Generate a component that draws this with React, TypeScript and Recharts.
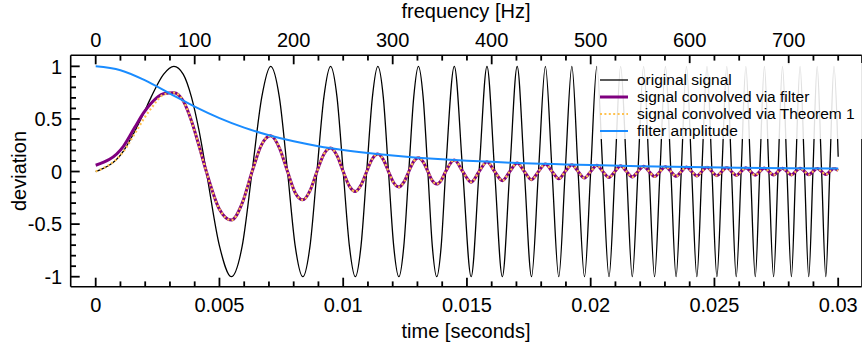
import React from 'react';
import { LineChart, Line, XAxis, YAxis, Legend, ReferenceLine } from 'recharts';

// chirp samples (time in seconds)
const TIME = [
  0, 0.00112, 0.00158, 0.00194, 0.00224, 0.00274, 0.00316, 0.00354, 0.00387, 0.00418, 0.00447,
  0.005, 0.00548, 0.00592, 0.00632, 0.00671, 0.00707, 0.00742, 0.00775,
  0.00806, 0.00837, 0.00866, 0.00894, 0.00922, 0.00949, 0.00975, 0.01,
  0.01025, 0.01049, 0.01072, 0.01095, 0.01118, 0.0114, 0.01162, 0.01183,
  0.01204, 0.01225, 0.01245, 0.01265, 0.01285, 0.01304, 0.01323, 0.01342,
  0.0136, 0.01378, 0.01396, 0.01414,
  0.01449, 0.01483, 0.01517, 0.01549, 0.01581, 0.01612, 0.01643, 0.01673,
  0.01703, 0.01732, 0.01761, 0.01789, 0.01817, 0.01844, 0.01871, 0.01897,
  0.01924, 0.01949, 0.01975, 0.02, 0.02025, 0.02049, 0.02074, 0.02098,
  0.02121, 0.02145, 0.02168, 0.02191, 0.02214, 0.02236, 0.02258, 0.0228,
  0.02302, 0.02324, 0.02345, 0.02366, 0.02387, 0.02408, 0.02429, 0.02449,
  0.0247, 0.0249, 0.0251, 0.0253, 0.0255, 0.02569, 0.02588, 0.02608,
  0.02627, 0.02646, 0.02665, 0.02683, 0.02702, 0.0272, 0.02739, 0.02757,
  0.02775, 0.02793, 0.02811, 0.02828, 0.02846, 0.02864, 0.02881, 0.02898,
  0.02915, 0.02933, 0.0295, 0.02966, 0.02983, 0.03,
];

const ORIGINAL = [
  0, 0.195, 0.383, 0.556, 0.707, 0.924, 1, 0.924, 0.707, 0.383, 0,
  -0.707, -1, -0.707, 0, 0.707, 1, 0.707, 0,
  -0.707, -1, -0.707, 0, 0.707, 1, 0.707, 0,
  -0.707, -1, -0.707, 0, 0.707, 1, 0.707, 0,
  -0.707, -1, -0.707, 0, 0.707, 1, 0.707, 0,
  -0.707, -1, -0.707, 0,
  1, 0, -1, 0, 1, 0, -1, 0,
  1, 0, -1, 0, 1, 0, -1, 0,
  1, 0, -1, 0, 1, 0, -1, 0,
  1, 0, -1, 0, 1, 0, -1, 0,
  1, 0, -1, 0, 1, 0, -1, 0,
  1, 0, -1, 0, 1, 0, -1, 0,
  1, 0, -1, 0, 1, 0, -1, 0,
  1, 0, -1, 0, 1, 0, -1, 0,
  1, 0, -1, 0, 1, 0.14,
];

const FILTERED = [
  0.06, 0.24, 0.42, 0.56, 0.65, 0.74, 0.75, 0.67, 0.48, 0.24, 0,
  -0.359, -0.462, -0.3, 0, 0.258, 0.34, 0.226, 0,
  -0.201, -0.269, -0.181, 0, 0.165, 0.223, 0.151, 0,
  -0.139, -0.19, -0.129, 0, 0.121, 0.166, 0.113, 0,
  -0.107, -0.147, -0.101, 0, 0.096, 0.132, 0.091, 0,
  -0.087, -0.119, -0.083, 0,
  0.109, 0, -0.101, 0, 0.093, 0, -0.087, 0,
  0.082, 0, -0.077, 0, 0.072, 0, -0.069, 0,
  0.065, 0, -0.062, 0, 0.059, 0, -0.057, 0,
  0.054, 0, -0.052, 0, 0.05, 0, -0.048, 0,
  0.046, 0, -0.045, 0, 0.043, 0, -0.042, 0,
  0.041, 0, -0.039, 0, 0.038, 0, -0.037, 0,
  0.036, 0, -0.035, 0, 0.034, 0, -0.033, 0,
  0.032, 0, -0.032, 0, 0.031, 0, -0.03, 0,
  0.029, 0, -0.029, 0, 0.028, 0.01,
];

// Theorem 1 curve only differs from the filtered one at the very start
const THEOREM_START = [0, 0.19, 0.36, 0.5, 0.6, 0.73, 0.75, 0.67, 0.48, 0.24, 0];
const THEOREM = [...THEOREM_START, ...FILTERED.slice(THEOREM_START.length)];

const FILTER_T = [
  0, 0.001, 0.002, 0.003, 0.004, 0.005, 0.006, 0.007, 0.008, 0.009, 0.01,
  0.011, 0.012, 0.013, 0.014, 0.015, 0.016, 0.017, 0.018, 0.019, 0.02,
  0.022, 0.024, 0.026, 0.028, 0.03,
];
const FILTER_AMP = [
  1, 0.963, 0.866, 0.741, 0.617, 0.508, 0.417, 0.345, 0.287, 0.241, 0.205,
  0.176, 0.152, 0.132, 0.116, 0.103, 0.092, 0.082, 0.074, 0.067, 0.061,
  0.051, 0.043, 0.037, 0.032, 0.028,
];

const TIME_MAJOR = [0, 0.005, 0.01, 0.015, 0.02, 0.025, 0.03];
const TIME_LABELS = ['0', '0.005', '0.01', '0.015', '0.02', '0.025', '0.03'];
const TIME_MINOR = [
  0.001, 0.002, 0.003, 0.004, 0.006, 0.007, 0.008, 0.009, 0.011, 0.012, 0.013, 0.014,
  0.016, 0.017, 0.018, 0.019, 0.021, 0.022, 0.023, 0.024, 0.026, 0.027, 0.028, 0.029,
];
const FREQ_MAJOR = [0, 100, 200, 300, 400, 500, 600, 700];
const FREQ_MINOR = [
  25, 50, 75, 125, 150, 175, 225, 250, 275, 325, 350, 375, 425, 450, 475,
  525, 550, 575, 625, 650, 675, 725, 750,
];
const DEV_MAJOR = [-1, -0.5, 0, 0.5, 1];
const DEV_LABELS = ['-1', '-0.5', '0', '0.5', '1'];
const DEV_MINOR = [-0.9, -0.8, -0.7, -0.6, -0.4, -0.3, -0.2, -0.1, 0.1, 0.2, 0.3, 0.4, 0.6, 0.7, 0.8, 0.9];

const HZ_PER_SECOND = 25000; // top axis: frequency = 25000 * time

const FONT = '"Liberation Sans", Arial, Helvetica, sans-serif';
const W = 862;
const H = 346;
const X_DOMAIN = [-0.00101, 0.03095];
const F_DOMAIN = [X_DOMAIN[0] * HZ_PER_SECOND, X_DOMAIN[1] * HZ_PER_SECOND];
const Y_DOMAIN = [-1.095, 1.105];
const MAJOR_LEN = 9;
const MINOR_LEN = 5.3;
const TICK_W = 1.8;

const SERIES = [
  { name: 'original signal', color: '#000000', width: 1.3, dash: undefined as string | undefined },
  { name: 'signal convolved via filter', color: '#7f007f', width: 3, dash: undefined },
  { name: 'signal convolved via Theorem 1', color: '#ffc24f', width: 2.2, dash: '2 2.4' },
  { name: 'filter amplitude', color: '#1a8cff', width: 2, dash: undefined },
];

const toPoints = (xs: number[], ys: number[]) => xs.map((t, i) => ({ t, v: ys[i] }));

const originalData = toPoints(TIME, ORIGINAL);
const filteredData = toPoints(TIME, FILTERED);
const theoremData = toPoints(TIME, THEOREM);
const ampData = toPoints(FILTER_T, FILTER_AMP);
const freqRange = F_DOMAIN.map((f) => ({ f, v: 0 }));

const textStyle = { fontFamily: FONT, fontSize: 20, fill: '#000' };

// ticks point inward; only the major ones carry a label
const BottomTick = (props: any) => {
  const { x, y, payload } = props;
  const idx = TIME_MAJOR.indexOf(payload.value);
  const len = idx >= 0 ? MAJOR_LEN : MINOR_LEN;
  return (
    <g>
      <path d={`M${x},${y}L${x},${y - len}`} stroke="#000" strokeWidth={TICK_W} fill="none" />
      {idx >= 0 && (
        <text x={x} y={y + 25} textAnchor="middle" style={textStyle}>
          {TIME_LABELS[idx]}
        </text>
      )}
    </g>
  );
};

const TopTick = (props: any) => {
  const { x, y, payload } = props;
  const major = FREQ_MAJOR.includes(payload.value);
  const len = major ? MAJOR_LEN : MINOR_LEN;
  return (
    <g>
      <path d={`M${x},${y}L${x},${y + len}`} stroke="#000" strokeWidth={TICK_W} fill="none" />
      {major && (
        <text x={x} y={y - 8.6} textAnchor="middle" style={textStyle}>
          {String(payload.value)}
        </text>
      )}
    </g>
  );
};

const LeftTick = (props: any) => {
  const { x, y, payload } = props;
  const idx = DEV_MAJOR.indexOf(payload.value);
  const len = idx >= 0 ? MAJOR_LEN : MINOR_LEN;
  return (
    <g>
      <path d={`M${x},${y}L${x + len},${y}`} stroke="#000" strokeWidth={TICK_W} fill="none" />
      {idx >= 0 && (
        <text x={x - 8.5} y={y} dy="0.36em" textAnchor="end" style={textStyle}>
          {DEV_LABELS[idx]}
        </text>
      )}
    </g>
  );
};

const LegendBox = () => (
  <div style={{ fontFamily: FONT, fontSize: 15.5, color: '#000', padding: '8.5px 0 0 3px' }}>
    {SERIES.map((s) => (
      <div key={s.name} style={{ display: 'flex', alignItems: 'center', height: 17, whiteSpace: 'nowrap' }}>
        <svg width={28} height={6} style={{ marginRight: 9, flex: 'none' }}>
          <line x1={0} x2={28} y1={3} y2={3} stroke={s.color} strokeWidth={s.width} strokeDasharray={s.dash} />
        </svg>
        <span>{s.name}</span>
      </div>
    ))}
  </div>
);

export default function App() {
  return (
    <div style={{ position: 'absolute', left: 0, top: 0 }}>
      <LineChart width={W} height={H} margin={{ top: 54.3, right: 0.3, bottom: 58.3, left: 69.7 }}>
        <XAxis
          dataKey="t"
          type="number"
          domain={X_DOMAIN}
          allowDataOverflow
          ticks={[...TIME_MAJOR, ...TIME_MINOR]}
          interval={0}
          height={1}
          tickSize={0}
          tickMargin={0}
          tickLine={false}
          tick={BottomTick}
          axisLine={{ stroke: '#000', strokeWidth: 1.6 }}
          label={{
            content: () => (
              <text x={466} y={338} textAnchor="middle" style={textStyle}>
                time [seconds]
              </text>
            ),
          }}
        />
        <XAxis
          xAxisId="freq"
          dataKey="f"
          orientation="top"
          type="number"
          domain={F_DOMAIN}
          allowDataOverflow
          ticks={[...FREQ_MAJOR, ...FREQ_MINOR]}
          interval={0}
          height={1}
          tickSize={0}
          tickMargin={0}
          tickLine={false}
          tick={TopTick}
          axisLine={{ stroke: '#000', strokeWidth: 1.6 }}
          label={{
            content: () => (
              <text x={466} y={18} textAnchor="middle" style={textStyle}>
                frequency [Hz]
              </text>
            ),
          }}
        />
        <YAxis
          type="number"
          domain={Y_DOMAIN}
          allowDataOverflow
          ticks={[...DEV_MAJOR, ...DEV_MINOR]}
          interval={0}
          width={1}
          tickSize={0}
          tickMargin={0}
          tickLine={false}
          tick={LeftTick}
          axisLine={{ stroke: '#000', strokeWidth: 1.6 }}
          label={{
            content: () => (
              <text
                x={19}
                y={171}
                dy="0.36em"
                textAnchor="middle"
                transform="rotate(-90 19 171)"
                style={textStyle}
              >
                deviation
              </text>
            ),
          }}
        />
        <ReferenceLine x={X_DOMAIN[1]} stroke="#000" strokeWidth={1} />
        {/* carries the frequency axis, draws nothing */}
        <Line
          xAxisId="freq"
          data={freqRange}
          dataKey="v"
          stroke="none"
          dot={false}
          activeDot={false}
          legendType="none"
          isAnimationActive={false}
        />
        <Line
          data={originalData}
          dataKey="v"
          name={SERIES[0].name}
          type="monotone"
          stroke={SERIES[0].color}
          strokeWidth={SERIES[0].width}
          dot={false}
          isAnimationActive={false}
        />
        <Line
          data={filteredData}
          dataKey="v"
          name={SERIES[1].name}
          type="monotone"
          stroke={SERIES[1].color}
          strokeWidth={SERIES[1].width}
          dot={false}
          isAnimationActive={false}
        />
        <Line
          data={theoremData}
          dataKey="v"
          name={SERIES[2].name}
          type="monotone"
          stroke={SERIES[2].color}
          strokeWidth={SERIES[2].width}
          strokeDasharray={SERIES[2].dash}
          dot={false}
          isAnimationActive={false}
        />
        <Line
          data={ampData}
          dataKey="v"
          name={SERIES[3].name}
          type="monotone"
          stroke={SERIES[3].color}
          strokeWidth={SERIES[3].width}
          dot={false}
          isAnimationActive={false}
        />
        <Legend
          layout="vertical"
          align="center"
          verticalAlign="middle"
          content={LegendBox}
          wrapperStyle={{
            left: 597,
            top: 63,
            width: 265,
            height: 76,
            background: 'rgba(255,255,255,0.88)',
          }}
        />
      </LineChart>
    </div>
  );
}
